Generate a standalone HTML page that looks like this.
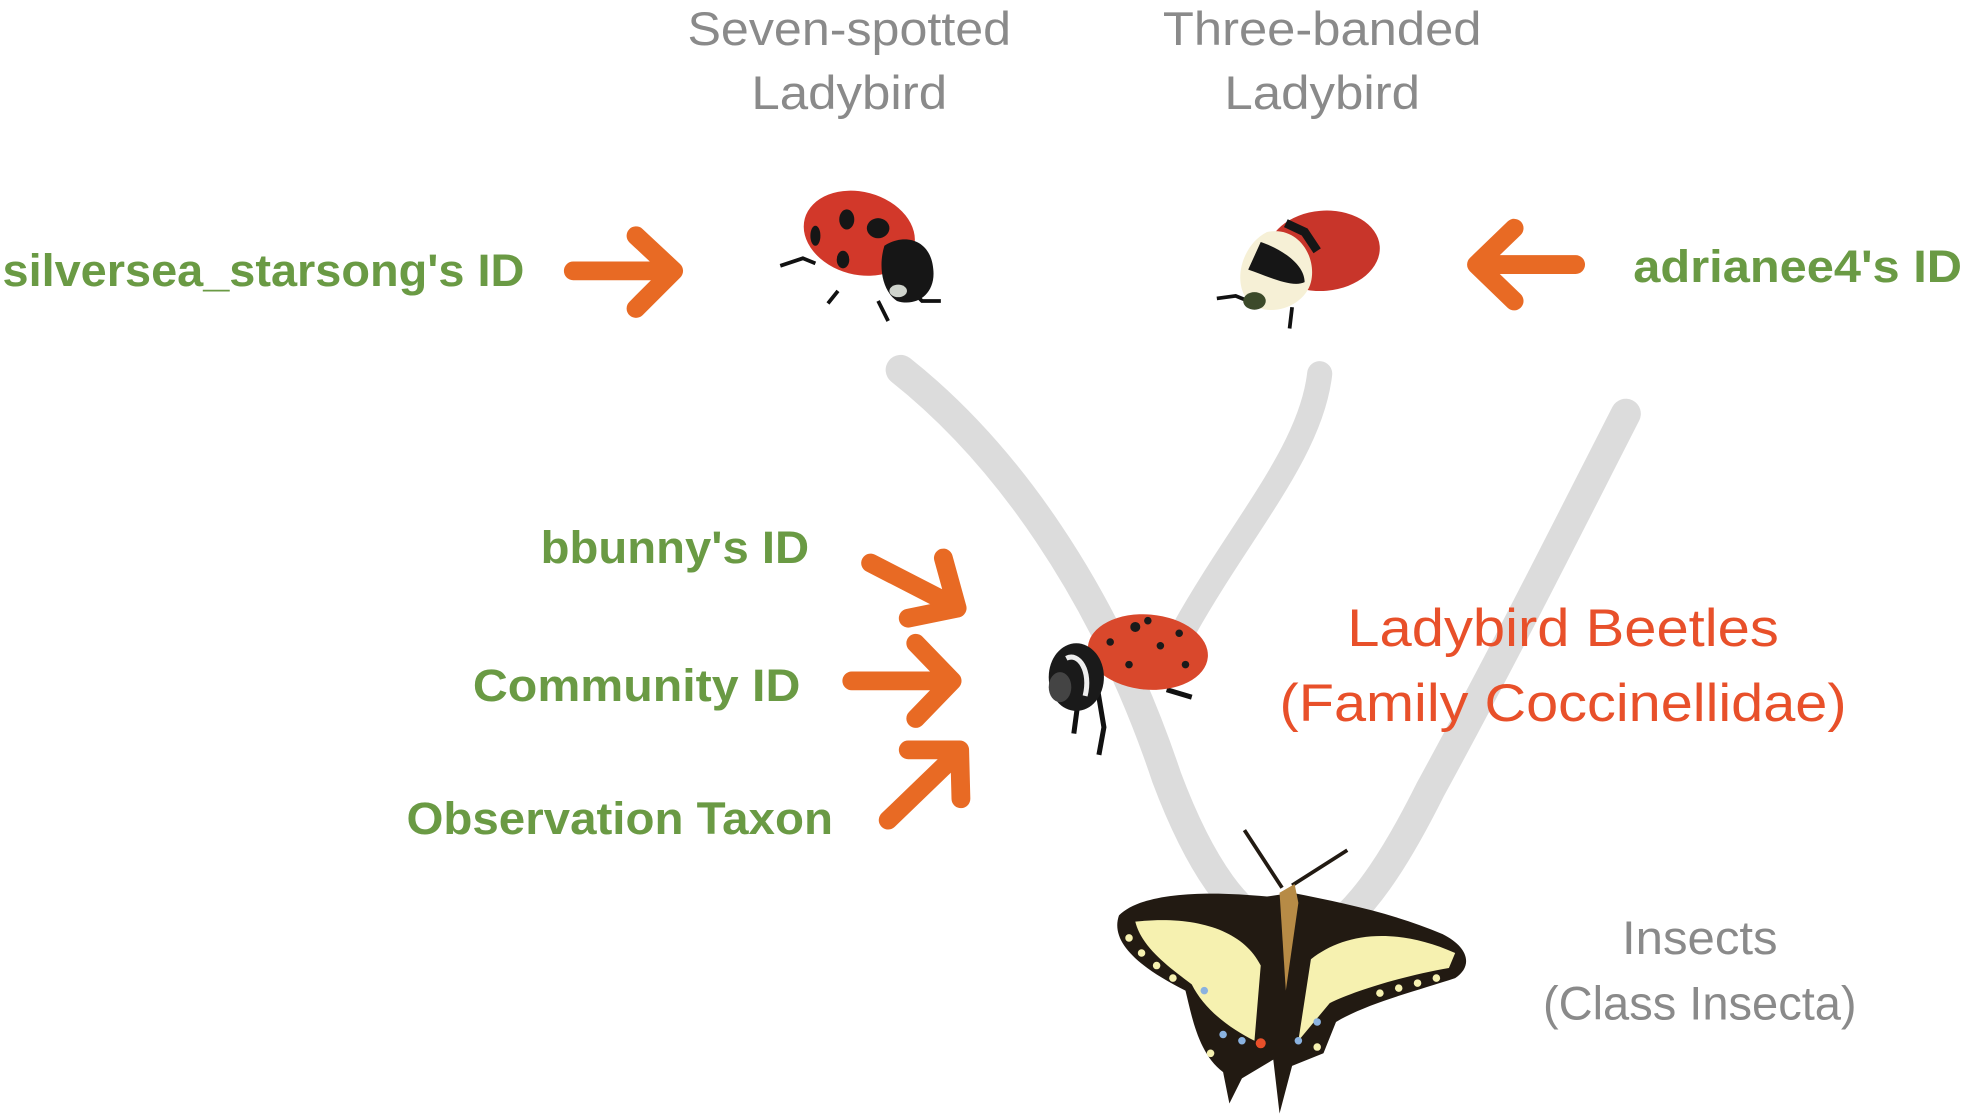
<!DOCTYPE html>
<html><head><meta charset="utf-8"><style>
html,body{margin:0;padding:0;background:#fff;width:1967px;height:1116px;overflow:hidden}
svg{display:block}
text{font-family:"Liberation Sans",sans-serif}
.g{fill:#8a8a8a;font-size:38px}
.gr{fill:#6a9a44;font-size:36px;font-weight:bold}
.r{fill:#e8502a;font-size:42px}
</style></head><body>
<svg width="1967" height="1116" viewBox="0 0 1568 890" preserveAspectRatio="none">
<g fill="none" stroke="#dcdcdc" stroke-linecap="round">
<path d="M718 295 C800 360 880 470 930 620 C960 700 990 730 1005 735" stroke-width="24"/>
<path d="M1052 298 C1045 360 990 420 945 500" stroke-width="20"/>
<path d="M1296 330 C1250 420 1200 520 1140 630 C1110 690 1090 715 1075 730" stroke-width="24"/>
</g>
<text class="g" x="677" y="36" text-anchor="middle" textLength="258" lengthAdjust="spacingAndGlyphs">Seven-spotted</text>
<text class="g" x="677" y="87" text-anchor="middle" textLength="156" lengthAdjust="spacingAndGlyphs">Ladybird</text>
<text class="g" x="1054" y="36" text-anchor="middle" textLength="254" lengthAdjust="spacingAndGlyphs">Three-banded</text>
<text class="g" x="1054" y="87" text-anchor="middle" textLength="156" lengthAdjust="spacingAndGlyphs">Ladybird</text>
<text class="gr" x="2" y="228" textLength="416" lengthAdjust="spacingAndGlyphs">silversea_starsong's ID</text>
<text class="gr" x="1302" y="225" textLength="262" lengthAdjust="spacingAndGlyphs">adrianee4's ID</text>
<text class="gr" x="431" y="449" textLength="214" lengthAdjust="spacingAndGlyphs">bbunny's ID</text>
<text class="gr" x="377" y="559" textLength="261" lengthAdjust="spacingAndGlyphs">Community ID</text>
<text class="gr" x="324" y="665" textLength="340" lengthAdjust="spacingAndGlyphs">Observation Taxon</text>
<text class="r" x="1246" y="515" text-anchor="middle" textLength="344" lengthAdjust="spacingAndGlyphs">Ladybird Beetles</text>
<text class="r" x="1246" y="575" text-anchor="middle" textLength="452" lengthAdjust="spacingAndGlyphs">(Family Coccinellidae)</text>
<text class="g" x="1355" y="761" text-anchor="middle" textLength="124" lengthAdjust="spacingAndGlyphs">Insects</text>
<text class="g" x="1355" y="813" text-anchor="middle" textLength="250" lengthAdjust="spacingAndGlyphs">(Class Insecta)</text>
<g fill="none" stroke="#e86a24" stroke-width="15" stroke-linecap="round" stroke-linejoin="round">
<path d="M457 216 H533 M507 188 L537 216 L507 246"/>
<path d="M1256 211 H1180 M1207 182 L1177 211 L1207 240"/>
<path d="M694 449 L762 484 M752 445 L763 485 L724 493"/>
<path d="M679 543 H758 M730 513 L759 543 L730 573"/>
<path d="M708 654 L764 600 M724 598 L765 598 L766 637"/>
</g>
<g>
<path d="M622 212 L640 206 L650 210" stroke="#111" stroke-width="3" fill="none"/>
<path d="M668 232 L660 242 M700 240 L708 256 M725 230 L735 240 L750 240" stroke="#111" stroke-width="3" fill="none"/>
<ellipse cx="685" cy="186" rx="45" ry="33" fill="#d2382a" transform="rotate(15 685 186)"/>
<path d="M705 196 C720 186 742 190 744 215 C746 235 730 245 715 240 C703 232 700 212 705 196Z" fill="#161616"/>
<ellipse cx="716" cy="232" rx="7" ry="5" fill="#cfd3cc"/>
<ellipse cx="675" cy="175" rx="6" ry="8" fill="#161616"/>
<ellipse cx="650" cy="188" rx="4" ry="8" fill="#161616"/>
<ellipse cx="672" cy="207" rx="5" ry="7" fill="#161616"/>
<ellipse cx="700" cy="182" rx="9" ry="8" fill="#161616"/>
</g>
<g>
<path d="M970 238 L985 236 L995 240 M1030 245 L1028 262" stroke="#111" stroke-width="3" fill="none"/>
<ellipse cx="1055" cy="200" rx="45" ry="32" fill="#c8352a" transform="rotate(-5 1055 200)"/>
<path d="M1010 185 C990 195 982 225 995 240 C1010 255 1040 245 1045 225 C1050 205 1035 180 1010 185Z" fill="#f6f0d6"/>
<path d="M1005 193 C1020 198 1040 210 1040 225 C1030 230 1010 220 995 215Z" fill="#161616"/>
<path d="M1025 178 L1040 185 L1050 200" stroke="#161616" stroke-width="7" fill="none"/>
<ellipse cx="1000" cy="240" rx="9" ry="7" fill="#3c4a2a"/>
</g>
<g>
<path d="M875 550 L880 580 L876 602 M860 555 L856 585 M930 550 L950 556" stroke="#111" stroke-width="4" fill="none"/>
<ellipse cx="915" cy="520" rx="48" ry="30" fill="#d9482c" transform="rotate(5 915 520)"/>
<ellipse cx="858" cy="540" rx="22" ry="27" fill="#1a1a1a"/>
<path d="M850 525 C860 520 870 535 865 555" stroke="#eee" stroke-width="4" fill="none"/>
<ellipse cx="845" cy="548" rx="9" ry="12" fill="#444"/>
<g fill="#1a1a1a"><circle cx="905" cy="500" r="4"/><circle cx="925" cy="515" r="3"/><circle cx="940" cy="505" r="3"/><circle cx="900" cy="530" r="3"/><circle cx="945" cy="530" r="3"/><circle cx="885" cy="512" r="3"/><circle cx="915" cy="495" r="3"/></g>
</g>
<g>
<path d="M992 662 L1022 708 M1074 678 L1030 706" stroke="#221a12" stroke-width="3" fill="none"/>
<path d="M1010 715 C960 710 910 712 892 730 C885 750 905 770 945 790 C950 810 955 840 975 855 L980 880 L990 860 L1015 845 L1020 888 L1030 850 L1055 840 L1065 815 C1090 800 1130 790 1160 780 C1175 770 1170 755 1150 745 C1110 728 1070 720 1030 712Z" fill="#221a12"/>
<path d="M905 735 C950 730 990 740 1005 770 L1000 830 C980 820 960 805 950 785 C930 770 910 755 905 735Z" fill="#f6f1b0"/>
<path d="M1045 765 C1070 745 1110 738 1160 760 L1155 772 C1120 778 1080 790 1060 800 L1035 830Z" fill="#f6f1b0"/>
<g fill="#f6f1b0"><circle cx="900" cy="748" r="3"/><circle cx="910" cy="760" r="3"/><circle cx="922" cy="770" r="3"/><circle cx="935" cy="780" r="3"/><circle cx="1100" cy="792" r="3"/><circle cx="1115" cy="788" r="3"/><circle cx="1130" cy="784" r="3"/><circle cx="1145" cy="780" r="3"/><circle cx="965" cy="840" r="3"/><circle cx="1050" cy="835" r="3"/></g>
<path d="M1020 712 L1032 705 L1035 720 L1025 790 Z" fill="#b78b46"/>
<g fill="#8ab2e0"><circle cx="960" cy="790" r="3"/><circle cx="975" cy="825" r="3"/><circle cx="990" cy="830" r="3"/><circle cx="1035" cy="830" r="3"/><circle cx="1050" cy="815" r="3"/></g>
<circle cx="1005" cy="832" r="4" fill="#e8502a"/>
</g>
</svg>
</body></html>
